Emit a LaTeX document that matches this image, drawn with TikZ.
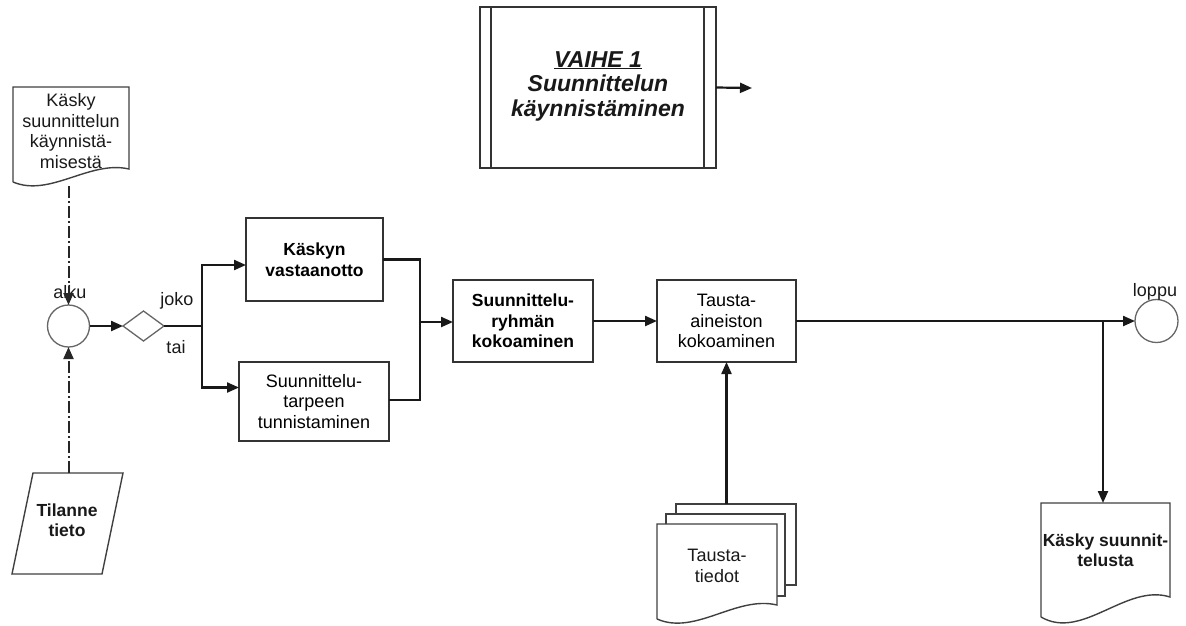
\documentclass[tikz,border=0pt]{standalone}
\usepackage{fontspec}
\setmainfont{Liberation Sans}
\usetikzlibrary{arrows.meta,calc,shapes.geometric}

\newcommand\txtreg{\fontsize{18}{20.5}\selectfont}
\newcommand\txtbold{\fontsize{17.5}{20.5}\selectfont\bfseries}
\newcommand\txtphase{\fontsize{23}{24.5}\selectfont\bfseries\itshape}

% document symbol with a wavy lower edge; #1 node, #2 drop of the left corner
\newcommand\docwave[3]{%
  \draw[#3] ($(#1.south west)+(0,#2)$) -- (#1.north west) -- (#1.north east) -- (#1.south east)
    .. controls ($(#1.south west)!0.66!(#1.south east)+(0,-#2*0.7)$)
       and ($(#1.south west)!0.32!(#1.south east)+(0,#2*2.2)$)
    .. ($(#1.south west)+(0,#2)$);}

\begin{document}
\begin{tikzpicture}[x=1pt,y=-1pt,
  every node/.style={inner sep=0pt,outer sep=0pt},
  procbox/.style={draw=black!80,line width=1.7pt,fill=white,align=center},
  shapeline/.style={draw=black!75,line width=1.4pt,fill=white},
  plain/.style={align=center,text=black!90},
  flow/.style={draw=black!90,line width=2.2pt},
  arr/.style={flow,-{Triangle[length=12pt,width=10pt]}},
  dashdot/.style={draw=black!85,line width=2pt,dash pattern=on 12pt off 3pt on 2pt off 3pt,
                  -{Triangle[length=12pt,width=10pt]}},
  event/.style={circle,draw=black!60,line width=1.3pt,minimum size=42pt,fill=white},
  gate/.style={diamond,draw=black!60,line width=1.3pt,minimum width=41pt,minimum height=30pt,fill=white},
  lbl/.style={font=\txtreg,text=black!90}
]
\useasboundingbox (0,0) rectangle (1186,625);

% phase header
\node[procbox,line width=1.5pt,minimum width=236pt,minimum height=161pt] (vh) at (598,87.5) {};
\draw[black!80,line width=1.5pt] ($(vh.north west)+(11,0)$) -- ($(vh.south west)+(11,0)$);
\draw[black!80,line width=1.5pt] ($(vh.north east)+(-12,0)$) -- ($(vh.south east)+(-12,0)$);
\node[plain,font=\txtphase] (vht) at (598,86) {\underline{VAIHE 1}\\Suunnittelun\\käynnistäminen};
\coordinate (vhout) at (752,88);
\draw[arr] (vh.east) -- (vhout);

% start document
\node[minimum width=116pt,minimum height=82pt] (d1) at (71,128) {};
\docwave{d1}{13}{shapeline}
\node[plain,font=\txtreg] (d1t) at (71,131) {Käsky\\suunnittelun\\käynnistä-\\misestä};

% situation data
\node[minimum width=90pt,minimum height=101pt] (tt) at (67.5,523.5) {};
\draw[shapeline] ($(tt.north west)+(10.5,0)$) -- ($(tt.north east)+(10.5,0)$)
  -- ($(tt.south east)+(-10.5,0)$) -- ($(tt.south west)+(-10.5,0)$) -- cycle;
\node[plain,font=\txtbold] (ttt) at (67,520) {Tilanne\\tieto};

% start / end events and gate
\node[event] (alku) at (68.5,326) {};
\node[lbl] (alkut) at (70,292) {alku};
\node[event,minimum size=43pt] (loppu) at (1156.5,321) {};
\node[lbl] (loppul) at (1155,292) {loppu};
\node[gate] (gate) at (143.5,326) {};
\node[lbl] (joko) at (177,301) {joko};
\node[lbl] (tai) at (176,347) {tai};

% process steps
\node[procbox,minimum width=137pt,minimum height=83pt,font=\txtbold] (kv) at (314.5,259.5) {Käskyn\\vastaanotto};
\node[procbox,minimum width=150pt,minimum height=79pt,font=\txtreg] (st) at (314,401.5) {Suunnittelu-\\tarpeen\\tunnistaminen};
\node[procbox,minimum width=140pt,minimum height=82pt,font=\txtbold] (sr) at (523,321) {Suunnittelu-\\ryhmän\\kokoaminen};
\node[procbox,minimum width=139pt,minimum height=82pt,font=\txtreg] (ta) at (726.5,321) {Tausta-\\aineiston\\kokoaminen};

% background data (stacked documents)
\node[shapeline,minimum width=120pt,minimum height=81pt] (bp) at (736,544.5) {};
\node[shapeline,minimum width=119pt,minimum height=82pt] (mp) at (725.5,555) {};
\node[minimum width=120pt,minimum height=81pt] (fp) at (717,564.5) {};
\docwave{fp}{14}{shapeline}
\node[plain,font=\txtreg] (fpt) at (717,566) {Tausta-\\tiedot};

% output document
\node[minimum width=129pt,minimum height=94pt] (ks) at (1105.5,550) {};
\docwave{ks}{20}{shapeline}
\node[plain,font=\txtbold] (kst) at (1105.5,550) {Käsky suunnit-\\telusta};

% connectors
\draw[dashdot] ($(d1.south -| alku.north)+(0,17)$) -- (alku.north);
\draw[dashdot] (alku.south |- tt.north) -- (alku.south);
\draw[arr] (alku.east) -- (gate.west);
\coordinate (fork) at (202,326);
\draw[flow] (gate.east) -- (fork);
\draw[arr] (fork) |- ($(kv.west)+(0,5.5)$);
\draw[arr] (fork) |- ($(st.west)+(0,-14)$);
\coordinate (merge) at (420,322);
\draw[flow] (kv.east) -| (merge);
\draw[flow] ($(st.east)+(0,-1.5)$) -| (merge);
\draw[arr] (merge) -- (merge -| sr.west);
\draw[arr] (sr.east) -- (ta.west);
\draw[arr] (ta.east) -- (loppu.west);
\coordinate (split) at (1103,321);
\draw[arr] (split) -- (split |- ks.north);
\draw[arr] (ta.south |- bp.north) -- (ta.south);
\end{tikzpicture}
\end{document}
